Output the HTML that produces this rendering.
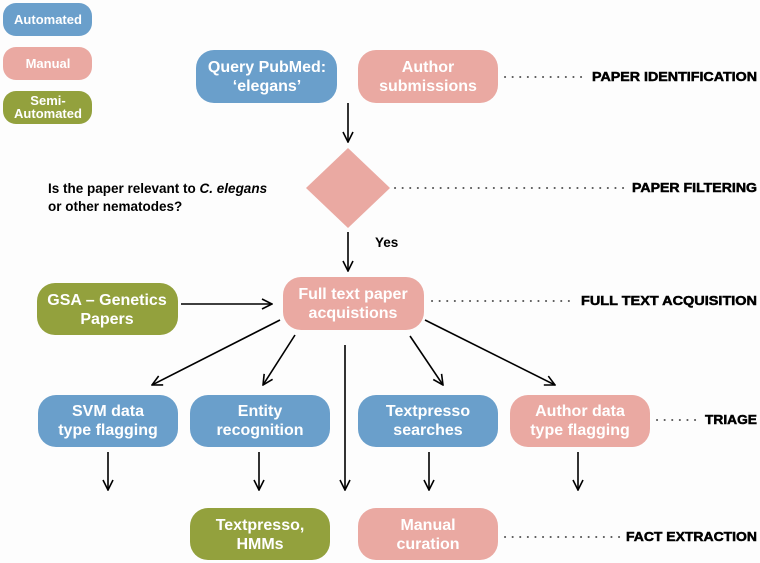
<!DOCTYPE html>
<html><head><meta charset="utf-8"><style>
html,body{margin:0;padding:0;background:#fdfdfd;}
svg{display:block}
.b{font-family:"Liberation Sans",Arial,sans-serif;font-weight:bold;fill:#fff;font-size:16px;text-anchor:middle}
.s{font-family:"Liberation Sans",Arial,sans-serif;font-weight:bold;fill:#fff;font-size:13px;text-anchor:middle}
.l{font-family:"Liberation Sans",Arial,sans-serif;font-weight:900;fill:#000;font-size:13px;stroke:#000;stroke-width:0.5}
.q{font-family:"Liberation Sans",Arial,sans-serif;font-weight:bold;fill:#000;font-size:13.5px}
.d{stroke:#555;stroke-width:2;stroke-dasharray:0.1 7.5;stroke-linecap:round}
.a{stroke:#000;stroke-width:1.6;fill:none}
</style></head><body>
<svg width="760" height="563" viewBox="0 0 760 563" xmlns="http://www.w3.org/2000/svg">
<defs><marker id="m" viewBox="0 0 12 12" refX="11" refY="6" markerWidth="12" markerHeight="12" markerUnits="userSpaceOnUse" orient="auto"><path d="M1,1 L11,6 L1,11" fill="none" stroke="#000" stroke-width="1.6"/></marker></defs>
<rect x="3" y="3" width="89" height="33" rx="13" fill="#6a9fcb"/><text class="s" x="48" y="24">Automated</text>
<rect x="3" y="47" width="89" height="33" rx="13" fill="#eaa9a2"/><text class="s" x="48" y="68">Manual</text>
<rect x="3" y="91" width="89" height="33" rx="13" fill="#93a13d"/><text class="s" x="48" y="105">Semi-</text><text class="s" x="48" y="118">Automated</text>
<rect x="196" y="50" width="141" height="53" rx="18" fill="#6a9fcb"/><text class="b" x="267" y="72">Query PubMed:</text><text class="b" x="267" y="91">‘elegans’</text>
<rect x="358" y="50" width="140" height="53" rx="18" fill="#eaa9a2"/><text class="b" x="428" y="72">Author</text><text class="b" x="428" y="91">submissions</text>
<line class="a" x1="348" y1="103" x2="348" y2="142" marker-end="url(#m)"/>
<polygon points="348,148 390,188 348,228 306,188" fill="#eaa9a2"/>
<text class="q" x="48" y="193">Is the paper relevant to <tspan font-style="italic">C. elegans</tspan></text>
<text class="q" x="48" y="211">or other nematodes?</text>
<text class="q" x="375" y="247">Yes</text>
<line class="a" x1="348" y1="232" x2="348" y2="271" marker-end="url(#m)"/>
<rect x="283" y="277" width="141" height="53" rx="18" fill="#eaa9a2"/><text class="b" x="353" y="299">Full text paper</text><text class="b" x="353" y="318">acquistions</text>
<rect x="37" y="283" width="141" height="52" rx="18" fill="#93a13d"/><text class="b" x="107" y="305">GSA – Genetics</text><text class="b" x="107" y="324">Papers</text>
<line class="a" x1="181" y1="304" x2="272" y2="304" marker-end="url(#m)"/>
<line class="a" x1="280" y1="320" x2="152" y2="385" marker-end="url(#m)"/>
<line class="a" x1="295" y1="335" x2="263" y2="385" marker-end="url(#m)"/>
<line class="a" x1="410" y1="336" x2="443" y2="385" marker-end="url(#m)"/>
<line class="a" x1="425" y1="320" x2="555" y2="385" marker-end="url(#m)"/>
<line class="a" x1="345" y1="345" x2="345" y2="490" marker-end="url(#m)"/>
<rect x="38" y="395" width="140" height="52" rx="18" fill="#6a9fcb"/><text class="b" x="108" y="416">SVM data</text><text class="b" x="108" y="435">type flagging</text>
<rect x="190" y="395" width="140" height="52" rx="18" fill="#6a9fcb"/><text class="b" x="260" y="416">Entity</text><text class="b" x="260" y="435">recognition</text>
<rect x="358" y="395" width="140" height="52" rx="18" fill="#6a9fcb"/><text class="b" x="428" y="416">Textpresso</text><text class="b" x="428" y="435">searches</text>
<rect x="510" y="395" width="140" height="52" rx="18" fill="#eaa9a2"/><text class="b" x="580" y="416">Author data</text><text class="b" x="580" y="435">type flagging</text>
<line class="a" x1="108" y1="452" x2="108" y2="490" marker-end="url(#m)"/>
<line class="a" x1="259" y1="452" x2="259" y2="490" marker-end="url(#m)"/>
<line class="a" x1="429" y1="452" x2="429" y2="490" marker-end="url(#m)"/>
<line class="a" x1="578" y1="452" x2="578" y2="490" marker-end="url(#m)"/>
<rect x="190" y="508" width="140" height="52" rx="18" fill="#93a13d"/><text class="b" x="260" y="530">Textpresso,</text><text class="b" x="260" y="549">HMMs</text>
<rect x="358" y="508" width="140" height="52" rx="18" fill="#eaa9a2"/><text class="b" x="428" y="530">Manual</text><text class="b" x="428" y="549">curation</text>
<line class="d" x1="505" y1="77" x2="585" y2="77"/><text class="l" x="592" y="81" textLength="165" lengthAdjust="spacingAndGlyphs">PAPER IDENTIFICATION</text>
<line class="d" x1="395" y1="188" x2="625" y2="188"/><text class="l" x="632" y="192" textLength="125" lengthAdjust="spacingAndGlyphs">PAPER FILTERING</text>
<line class="d" x1="432" y1="301" x2="574" y2="301"/><text class="l" x="581" y="305" textLength="176" lengthAdjust="spacingAndGlyphs">FULL TEXT ACQUISITION</text>
<line class="d" x1="657" y1="420" x2="700" y2="420"/><text class="l" x="705" y="424" textLength="52" lengthAdjust="spacingAndGlyphs">TRIAGE</text>
<line class="d" x1="505" y1="537" x2="620" y2="537"/><text class="l" x="626" y="541" textLength="131" lengthAdjust="spacingAndGlyphs">FACT EXTRACTION</text>
</svg>
</body></html>
